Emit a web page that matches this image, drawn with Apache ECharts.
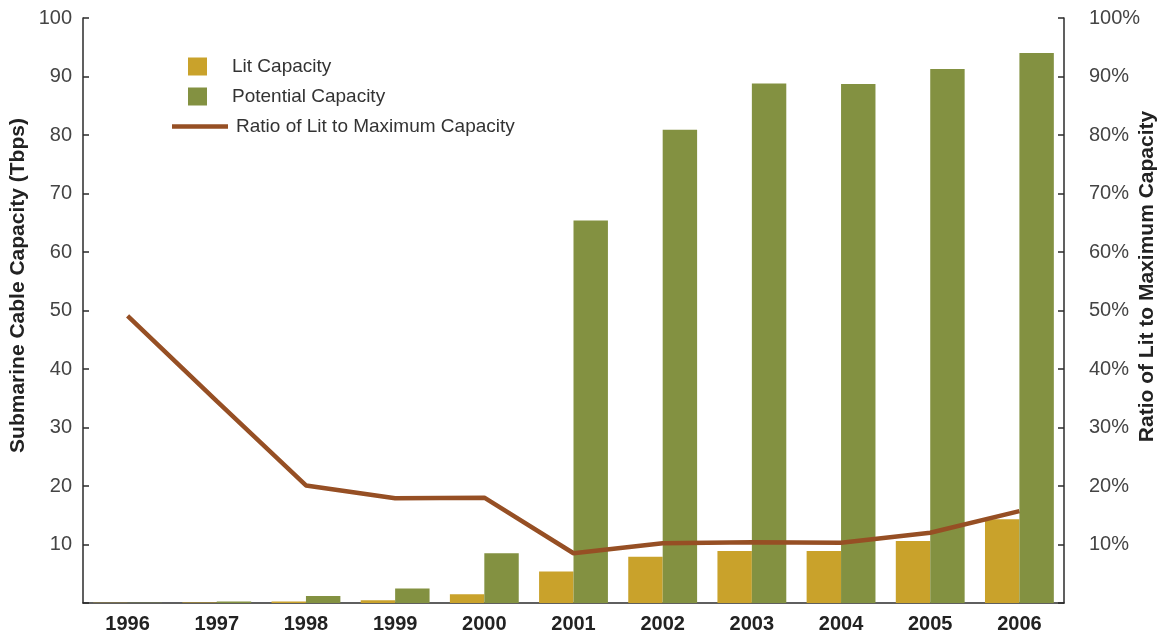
<!DOCTYPE html>
<html>
<head>
<meta charset="utf-8">
<script src="https://cdn.jsdelivr.net/npm/echarts@6/dist/echarts.min.js"></script>
<style>
html,body{margin:0;padding:0;background:#fff;}
#chart{width:1162px;height:637px;}
</style>
</head>
<body>
<div id="chart"></div>
<script>
var years = ['1996','1997','1998','1999','2000','2001','2002','2003','2004','2005','2006'];
var litCapacity = [0.03, 0.08, 0.24, 0.45, 1.5, 5.4, 7.9, 8.9, 8.9, 10.6, 14.3];
var potentialCapacity = [0.05, 0.25, 1.2, 2.5, 8.5, 65.4, 80.9, 88.8, 88.7, 91.3, 94.0];
var ratioLitToMax = [49.1, 34.5, 20.1, 17.9, 18.0, 8.5, 10.2, 10.4, 10.3, 12.0, 15.7];
var leftTicks = {min: 0, max: 100, interval: 10};
var rightTicks = {min: 0, max: 100, interval: 10};

var FONT = '"Liberation Sans", Arial, Helvetica, sans-serif';
var chart = echarts.init(document.getElementById('chart'), null, {renderer: 'canvas'});
var axisLineStyle = {color: '#2b2b2b', width: 1.5};

chart.setOption({
  animation: false,
  backgroundColor: '#ffffff',
  grid: {left: 83, right: 98, top: 18, bottom: 34, containLabel: false, outerBoundsMode: 'none'},
  legend: [
    {
      data: ['Lit Capacity', 'Potential Capacity'],
      orient: 'vertical',
      left: 183, top: 52,
      itemWidth: 19, itemHeight: 18, itemGap: 11,
      icon: 'rect',
      textStyle: {fontFamily: FONT, fontSize: 19, color: '#333', padding: [0, 0, 0, 20]}
    },
    {
      data: ['Ratio of Lit to Maximum Capacity'],
      orient: 'vertical',
      left: 167, top: 112,
      itemWidth: 56, itemHeight: 4.5,
      icon: 'rect',
      textStyle: {fontFamily: FONT, fontSize: 19, color: '#333', padding: [0, 0, 0, 3]}
    }
  ],
  xAxis: {
    type: 'category',
    data: years,
    axisLine: {lineStyle: axisLineStyle},
    axisTick: {show: false},
    axisLabel: {fontFamily: FONT, fontSize: 20, fontWeight: 'bold', color: '#222', margin: 11}
  },
  yAxis: [
    {
      type: 'value',
      min: leftTicks.min, max: leftTicks.max, interval: leftTicks.interval,
      name: 'Submarine Cable Capacity (Tbps)',
      nameLocation: 'middle', nameRotate: 90, nameGap: 54,
      nameMoveOverlap: false,
      nameTextStyle: {fontFamily: FONT, fontSize: 21, fontWeight: 'bold', color: '#222', padding: [0, 0, 0, 50]},
      axisLine: {show: true, lineStyle: axisLineStyle},
      axisTick: {show: true, inside: true, length: 6, lineStyle: axisLineStyle},
      splitLine: {show: false},
      axisLabel: {fontFamily: FONT, fontSize: 20, color: '#444', margin: 11,
        formatter: function (v) { return v === 0 ? '' : String(v); }}
    },
    {
      type: 'value',
      position: 'right',
      min: rightTicks.min, max: rightTicks.max, interval: rightTicks.interval,
      name: 'Ratio of Lit to Maximum Capacity',
      nameLocation: 'middle', nameRotate: 90, nameGap: 73,
      nameMoveOverlap: false,
      nameTextStyle: {fontFamily: FONT, fontSize: 21, fontWeight: 'bold', color: '#222', padding: [0, 0, 0, 68]},
      axisLine: {show: true, lineStyle: axisLineStyle},
      axisTick: {show: true, inside: true, length: 6, lineStyle: axisLineStyle},
      splitLine: {show: false},
      axisLabel: {fontFamily: FONT, fontSize: 20, color: '#444', margin: 25,
        formatter: function (v) { return v === 0 ? '' : v + '%'; }}
    }
  ],
  series: [
    {
      name: 'Lit Capacity',
      type: 'bar',
      data: litCapacity,
      barWidth: '38.6%',
      barGap: '0%',
      itemStyle: {color: '#C9A22B'}
    },
    {
      name: 'Potential Capacity',
      type: 'bar',
      data: potentialCapacity,
      barWidth: '38.6%',
      barGap: '0%',
      itemStyle: {color: '#839141'}
    },
    {
      name: 'Ratio of Lit to Maximum Capacity',
      type: 'line',
      yAxisIndex: 1,
      data: ratioLitToMax,
      symbol: 'none',
      z: 5,
      lineStyle: {color: '#964F24', width: 4.5},
      itemStyle: {color: '#964F24'}
    }
  ]
});
</script>
</body>
</html>
